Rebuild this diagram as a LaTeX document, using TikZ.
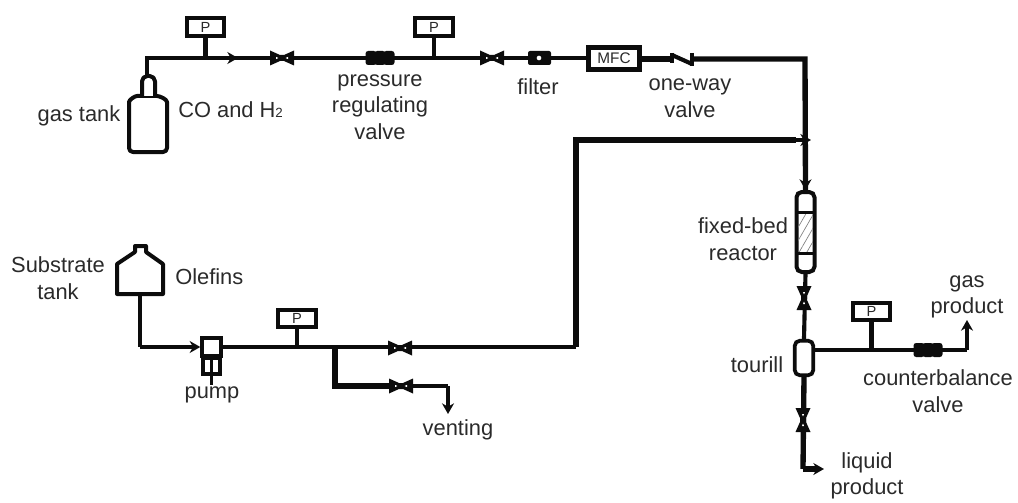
\documentclass[tikz,border=0pt]{standalone}
\usepackage{fontspec}
\setmainfont{Liberation Sans}
\usetikzlibrary{positioning, arrows.meta, calc, patterns.meta}
\definecolor{inkblack}{RGB}{12, 12, 12}
\definecolor{labelgray}{RGB}{42, 42, 42}
\tikzset{
  pipe/.style={line width=3.1pt, inkblack, line join=miter},
  thickpipe/.style={line width=4pt, inkblack, line join=miter},
  flow/.style={-{Stealth[length=8pt, width=9pt]}},
  vessel/.style={draw=inkblack, line width=3pt, fill=white, line join=round},
  gauge/.style={
    draw=inkblack, line width=2.8pt, fill=white,
    minimum width=28pt, minimum height=13pt, inner sep=0pt,
    font=\fontsize{11}{11}\selectfont, text=labelgray
  },
  lbl/.style={font=\fontsize{16.4}{20}\selectfont, text=labelgray, align=center, inner sep=0pt}
}
\newcommand{\drawvalve}[4]{
  \begin{scope}[shift={(#2,#3)}, rotate=#4]
    \fill[inkblack] (-12,-7.5) -- (-2,-3) -- (2,-3) -- (12,-7.5) -- (12,7.5) -- (2,3) -- (-2,3) -- (-12,7.5) -- cycle;
    \fill[white] (-6,-1.1) -- (-3.6,0) -- (-6,1.1) -- cycle;
    \fill[white] (6,-1.1) -- (3.6,0) -- (6,1.1) -- cycle;
  \end{scope}
  \coordinate (#1) at (#2,#3);
}
\newcommand{\drawbeads}[3]{
  \foreach \bx in {-9,0,9}
    \fill[inkblack, rounded corners=2pt] (#2+\bx-5.5,#3-7) rectangle (#2+\bx+5.5,#3+7);
  \coordinate (#1) at (#2,#3);
}

\begin{document}
\begin{tikzpicture}[x=0.75pt, y=-0.75pt]
\useasboundingbox (0,0) rectangle (1018,503);

% Junctions on the gas line
\coordinate (gasTop) at (147,75);
\coordinate (gasTurn) at (147,58);
\coordinate (gasFlow) at (238,58);
\coordinate (oneWayIn) at (672,59);
\coordinate (oneWayOut) at (693,59);
\coordinate (feedTurn) at (805,59);
\coordinate (mixNear) at (796,140);
\coordinate (mixFlow) at (811,140);
\coordinate (mixTurn) at (576,140);

% Gas tank
\draw[vessel, rounded corners=3pt] (129,152) -- (129,106) to[out=90, in=180] (141,96) -- (153,96) to[out=0, in=90] (167,106) -- (167,152) -- cycle;
\draw[vessel, rounded corners=4pt] (142,96) -- (142,76) -- (155,76) -- (155,96);

% Gauges, line units
\node[gauge] (gaugeA) at (205.5,27) {P};
\node[gauge] (gaugeB) at (434,27) {P};
\node[gauge] (gaugeC) at (297,318.5) {P};
\node[gauge] (gaugeD) at (871.5,311.5) {P};
\node[draw=inkblack, line width=3.8pt, fill=white, minimum width=38pt, minimum height=17pt, inner sep=0pt, font=\fontsize{11.5}{11.5}\selectfont, text=labelgray] (mfc) at (614,58.5) {MFC};

% Reactor and tourill
\node[draw=inkblack, line width=3pt, fill=white, rounded corners=4pt, minimum width=13.5pt, minimum height=60pt, inner sep=0pt] (reactor) at (805.5,232) {};
\node[draw=inkblack, line width=2.6pt, pattern={Lines[angle=60, distance=5pt, line width=0.5pt]}, pattern color=gray, minimum width=13.5pt, minimum height=31pt, inner sep=0pt] (bed) at (805.5,233) {};
\node[draw=inkblack, line width=2.8pt, fill=white, rounded corners=4pt, minimum width=14pt, minimum height=26pt, inner sep=0pt] (tourill) at (804,358) {};

% Substrate tank and pump
\draw[vessel] (117,294) -- (117,264) -- (135,252) -- (135,246) -- (146,246) -- (146,252) -- (163,264) -- (163,294) -- cycle;
\coordinate (subOut) at (140,294);
\coordinate (subTurn) at (140,347);
\node[draw=inkblack, line width=2.8pt, fill=white, minimum width=14pt, minimum height=14pt, inner sep=0pt] (pumpTop) at (211.5,347) {};
\node[draw=inkblack, line width=2.8pt, fill=white, minimum width=13pt, minimum height=12pt, inner sep=0pt] (pumpLow) at (211.5,366) {};
\coordinate (pumpRod) at (211.5,385);
\draw[line width=2.4pt, inkblack] (pumpTop.south) -- (pumpRod);

% Gas line
\draw[pipe] (gasTop) -- (gasTurn) -- (gasFlow);
\draw[pipe, flow] (gasTurn) -- (gasFlow);
\draw[pipe] (gasFlow) -- (mfc.west |- gasFlow);
\draw[pipe] (gaugeA.south) -- (gaugeA.south |- gasTurn);
\draw[pipe] (gaugeB.south) -- (gaugeB.south |- gasTurn);
\draw[thickpipe] (mfc.east |- oneWayIn) -- (oneWayIn);
\draw[thickpipe] (oneWayOut) -- (feedTurn) -- (reactor.north);
\drawvalve{valveA}{282}{58}{0}
\drawbeads{regValve}{380}{58}
\drawvalve{valveB}{492}{58}{0}
\fill[inkblack, rounded corners=1.5pt] (528,51) rectangle (551,65);
\node[circle, fill=white, minimum size=3.5pt, inner sep=0pt] (filter) at (539,58) {};
\draw[line width=2.6pt, inkblack] (672,53) -- (672,63);
\draw[line width=2.6pt, inkblack] (692,53) -- (692,66);
\draw[pipe] (oneWayIn) ++(0,-4) -- (692,64);

% Liquid feed
\draw[pipe] (subOut) -- (subTurn);
\draw[pipe, flow] (subTurn) -- (pumpTop.west);
\coordinate (feedFork) at (335,347);
\coordinate (feedTurnUp) at (576,347);
\draw[pipe] (pumpTop.east) -- (feedTurnUp);
\draw[pipe] (gaugeC.south) -- (gaugeC.south |- feedFork);
\draw[thickpipe] (feedTurnUp) -- (mixTurn) -- (mixNear);
\draw[pipe, flow] (mixNear) -- (mixFlow);
\drawvalve{valveC}{400}{348}{0}

% Venting branch
\coordinate (ventFork) at (335,386);
\coordinate (ventTurn) at (448,386);
\coordinate (ventEnd) at (448,414);
\draw[thickpipe] (feedFork) -- (ventFork) -- (401,386);
\draw[pipe] (401,386) -- (ventTurn);
\draw[pipe, flow] (ventTurn) -- (ventEnd);
\drawvalve{valveD}{401}{386}{0}

% Reactor outlet and products
\draw[pipe, flow] (805.5,170) -- (reactor.north);
\draw[pipe] (reactor.south) -- (tourill.north);
\drawvalve{valveE}{804}{298}{90}
\coordinate (liquidTurn) at (803,469);
\coordinate (liquidEnd) at (824,469);
\draw[thickpipe] (tourill.south) -- (liquidTurn);
\draw[thickpipe, flow] (liquidTurn) -- (liquidEnd);
\drawvalve{valveF}{803}{420}{90}
\coordinate (gasOutTurn) at (967,350);
\coordinate (gasOutEnd) at (967,320);
\draw[pipe] (tourill.east |- gasOutTurn) -- (gasOutTurn);
\draw[pipe, flow] (gasOutTurn) -- (gasOutEnd);
\draw[pipe] (gaugeD.south) -- (gaugeD.south |- gasOutTurn);
\drawbeads{backValve}{928}{350}

% Labels
\node[lbl] (gastankLbl) at (79,116) {gas tank};
\node[lbl, anchor=west] (gasLbl) at (178,110) {CO and H{\fontsize{10}{10}\selectfont 2}};
\node[lbl] (regLbl) at (380,107) {pressure\\regulating\\valve};
\node[lbl] (filterLbl) at (538,87) {filter};
\node[lbl] (oneWayLbl) at (690,98) {one-way\\valve};
\node[lbl] (subLbl) at (58,278) {Substrate\\tank};
\node[lbl, anchor=west] (olefinLbl) at (175,277) {Olefins};
\node[lbl] (pumpLbl) at (212,395) {pump};
\node[lbl] (ventLbl) at (458,430) {venting};
\node[lbl] (reactorLbl) at (743,239) {fixed-bed\\reactor};
\node[lbl] (tourillLbl) at (757,365) {tourill};
\node[lbl] (gasProdLbl) at (967,297) {gas\\product};
\node[lbl] (backLbl) at (938,391) {counterbalance\\valve};
\node[lbl] (liquidLbl) at (867,476) {liquid\\product};

\end{tikzpicture}
\end{document}
